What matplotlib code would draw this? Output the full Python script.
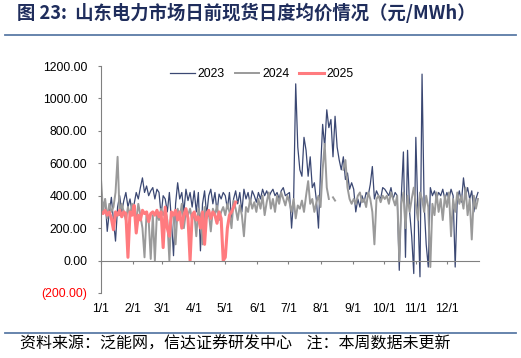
import matplotlib
matplotlib.use('Agg')
import matplotlib.pyplot as plt
import numpy as np
import pandas as pd

plt.rcParams['font.family'] = ['Liberation Sans', 'Noto Sans CJK SC', 'DejaVu Sans']

# daily average day-ahead spot price (yuan/MWh), read every 2 days from the picture
y2023 = [430, 330, 380, 180, 300, 390, 250, 120, 330, 400, 300, 370, 420, 330, 380, 300,
         350, 420, 380, 450, 510, 420, 460, 400, 430, 450, 380, 440, 420, 280,
         400, 380, 300, 420, 250, 30, 350, 480, 380, 420, 300, 440, 370, 420, 330,
         430, 300, 420, 60, 350, 430, 280, 400, 440, 350, 420, 300, 410, 380, 420,
         400, 320, 420, 260, 380, 430, 350, 420, 300, 440, 380, 420, 350, 430, 400, 360,
         420, 380, 440, 400, 430, 390, 420, 440, 400, 420, 380, 430, 450, 400, 410,
         420, 200, 380, 1090, 700, 560, 520, 760, 680, 520, 640, 450, 480, 370, 200,
         560, 840, 700, 930, 820, 870, 640, 890, 700, 620, 560, 640, 500, 540, 440, 480,
         440, 300, 380, 330, 400, 360, 420, 400, 470, 580, 380, 430, 400, 380, 450,
         440, 420, 400, 450, 380, 420, 400, -60, 400, 670, 20, 680, 300, 150, -80,
         760, 300, -100, 1150, 350, 100, -40, 450, 400, 430, 380, 420, 400, 440, 380,
         420, 380, 440, 400, -40, 380, 430, 360, 510, 400, 450, 380, 430, 300, 380, 420]

y2024 = [500, 300, 380, 260, 350, 300, 330, 420, 640, 280, 350, 300, 250, 330, 280, 350,
         300, 250, 350, 280, 200, 20, 300, 250, 10, 280, 0, 300, 250, 320,
         280, 320, 250, 0, 300, 270, 100, 320, 260, 350, 200, 300, 280, 320, 250,
         300, 150, 320, 280, 100, 330, 260, 300, 180, 320, 280, 340, 250, 300, 330,
         280, 350, 300, 200, 370, 320, 250, 340, 280, 150, 330, 300, 380, 320, 360, 300,
         380, 320, 400, 280, 360, 420, 320, 380, 300, 400, 350, 420, 380, 340, 400,
         360, 300, 380, 260, 340, 320, 370, 300, 400, 490, 350, 380, 300, 360, 400,
         330, 560, 720, 450, 380, np.nan, 390, 370, np.nan, 355, np.nan, 560, 620, 450, 380, 350,
         380, 350, 400, 420, 360, 380, 330, 420, 380, 300, 100, 380, 400, 360, 400,
         380, 400, 350, 420, 380, 340, 400, 0, 350, 420, 200, 400, 300, 380, 450,
         350, 250, 420, 380, 300, 400, 330, -40, 350, 280, 420, 300, 380, 250, 400,
         330, 420, 150, 380, 300, 420, 350, 400, 320, 450, 280, 380, 130, 400, 320, 380]

y2025 = [300, 290, 310, 280, 300, 260, 190, 300, 280, 310, 270, 300, 290, 20, 300, 280,
         340, 170, 280, 250, 310, 290, 300, 240, 290, 300, 280, 310, 270, 300,
         80, 330, 200, 150, 300, 280, 310, 250, 300, 200, 280, 320, 260, 0, 280,
         300, 250, 270, 200, 300, 100, 290, 310, 260, 300, 280, 230, 300, 260, 0,
         20, 200, 280, 300, 330, 360]

month_labels = ['1/1', '2/1', '3/1', '4/1', '5/1', '6/1', '7/1', '8/1', '9/1', '10/1', '11/1', '12/1']
ytick_vals = [-200, 0, 200, 400, 600, 800, 1000, 1200]
ytick_labels = ['(200.00)', '0.00', '200.00', '400.00', '600.00', '800.00', '1000.00', '1200.00']

def days(n):
    d = pd.date_range('2023-01-01', periods=n, freq='2D')
    return d.dayofyear.values - 1

month_pos = pd.date_range('2023-01-01', periods=12, freq='MS').dayofyear.values - 1

fig = plt.figure(figsize=(5.21, 3.58), dpi=100)
ax = fig.add_axes([0.1939, 0.1816, 0.7255, 0.634])

ax.plot(days(len(y2023)), y2023, color='#3b4873', lw=0.9, label='2023')
ax.plot(days(len(y2024)), y2024, color='#9a9a9a', lw=1.4, label='2024')
ax.plot(days(len(y2025)), y2025, color='#ff7b7f', lw=2.2, label='2025')

ax.set_xlim(0, 365)
ax.set_ylim(-200, 1200)
for s in ['top', 'right']:
    ax.spines[s].set_visible(False)
ax.spines['left'].set_color('#808080')
ax.spines['bottom'].set_position(('data', 0))
ax.spines['bottom'].set_color('#808080')

ax.set_xticks(month_pos)
ax.tick_params(axis='x', length=2.5, color='#808080', labelbottom=False)
sec = ax.secondary_xaxis('bottom')
sec.set_xticks(month_pos)
sec.set_xticklabels(month_labels)
sec.tick_params(length=0, pad=7, labelsize=8.8)
sec.spines['bottom'].set_visible(False)

ax.set_yticks(ytick_vals)
ax.set_yticklabels(ytick_labels)
ax.tick_params(axis='y', length=2.5, color='#808080', pad=7.5, labelsize=8.8)
ax.get_yticklabels()[0].set_color('red')

ax.legend(loc='upper center', bbox_to_anchor=(0.426, 1.04), ncol=3, frameon=False,
          fontsize=8.8, handlelength=2.0, handletextpad=0.25, columnspacing=0.8)

fig.text(0.033, 0.964, '图 23:  山东电力市场日前现货日度均价情况（元/MWh）', fontsize=13.2,
         fontweight='bold', color='#1f2d5c', va='center', ha='left',
         family=['Noto Sans CJK SC', 'DejaVu Sans'])
fig.add_artist(plt.Line2D([0.01, 0.99], [0.902, 0.902], color='#5b7ba6', lw=1.3))
fig.add_artist(plt.Line2D([0.01, 0.99], [0.07, 0.07], color='#5b7ba6', lw=1.3))
fig.text(0.038, 0.04, '资料来源：泛能网，信达证券研发中心    注：本周数据未更新', fontsize=11.5,
         style='italic', color='black', va='center', ha='left',
         family=['Noto Sans CJK SC', 'DejaVu Sans'])

fig.savefig('out.png', dpi=100)
